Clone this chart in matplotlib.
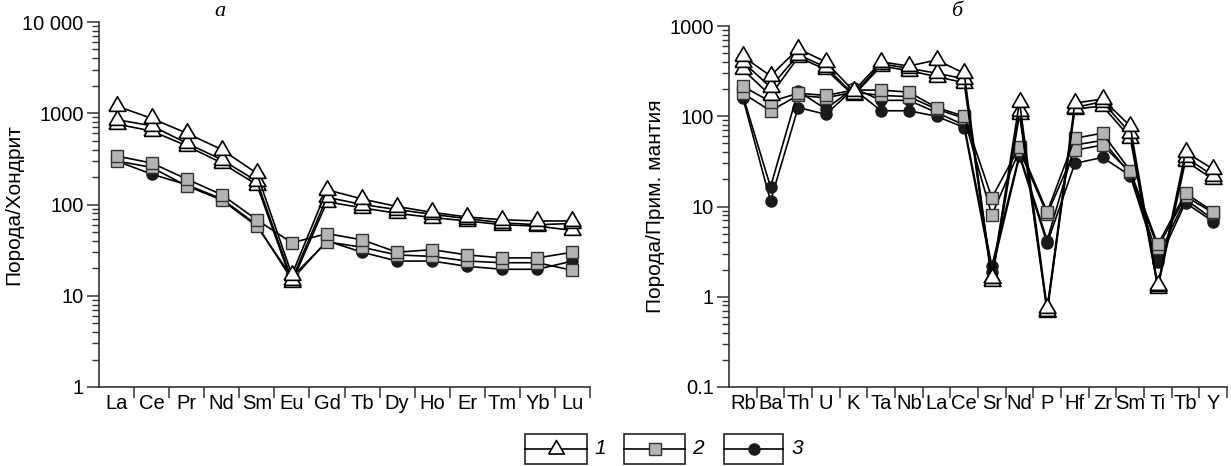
import numpy as np
import matplotlib
matplotlib.use("Agg")
import matplotlib.pyplot as plt
from matplotlib.patches import Rectangle
from matplotlib.lines import Line2D
from matplotlib.ticker import LogLocator, FixedLocator, NullFormatter

plt.rcParams['font.family'] = ['Liberation Sans', 'DejaVu Sans']

# --- panel a: REE, chondrite normalised ---
ree = ['La', 'Ce', 'Pr', 'Nd', 'Sm', 'Eu', 'Gd', 'Tb', 'Dy', 'Ho', 'Er', 'Tm', 'Yb', 'Lu']
tri_a1 = [1200, 880, 605, 400, 220, 17, 145, 115, 95, 82, 73, 68, 66, 66]
tri_a2 = [850, 730, 470, 310, 180, 15, 120, 100, 88, 78, 70, 63, 60, 62]
tri_a3 = [760, 640, 440, 285, 165, 14, 107, 92, 80, 72, 66, 60, 58, 52]
sq_a1 = [340, 285, 190, 128, 68, 38, 48, 41, 30, 32, 28, 26, 26, 30]
sq_a2 = [300, 255, 160, 112, 58, 16, 39, 34, 28, 27, 24, 23, 23, 19]
circ_a1 = [300, 215, 165, 115, 60, 15, 40, 30, 24, 24, 21, 19.5, 19.5, 24]

# --- panel b: primitive mantle normalised ---
elems = ['Rb', 'Ba', 'Th', 'U', 'K', 'Ta', 'Nb', 'La', 'Ce', 'Sr', 'Nd', 'P',
         'Hf', 'Zr', 'Sm', 'Ti', 'Tb', 'Y']
tri_b1 = [460, 280, 560, 400, 190, 400, 360, 420, 300, 1.6, 145, 0.75, 140, 155, 78, 1.35, 40, 26]
tri_b2 = [400, 210, 480, 350, 175, 380, 340, 300, 260, 1.6, 115, 0.7, 125, 145, 65, 1.3, 35, 22]
tri_b3 = [330, 170, 450, 330, 170, 360, 320, 275, 235, 1.5, 105, 0.68, 120, 130, 58, 1.25, 32, 20]
sq_b1 = [215, 145, 180, 170, 195, 195, 185, 125, 100, 12.5, 46, 8.7, 57, 65, 25, 3.8, 14, 8.8]
sq_b2 = [180, 115, 170, 160, 185, 170, 165, 120, 95, 8, 42, 8.2, 42, 48, 24, 3.5, 13, 8.5]
circ_b1 = [170, 16.5, 190, 120, 205, 150, 150, 110, 80, 2.2, 38, 4.2, 48, 54, 23, 2.8, 12, 7.2]
circ_b2 = [160, 11.5, 125, 105, 200, 115, 115, 100, 75, 1.9, 36, 3.9, 30, 35, 22, 2.4, 11, 6.8]

legend_labels = ['1', '2', '3']

# equilateral triangle marker
tri_marker = [(-1, -0.577), (1, -0.577), (0, 1.155), (-1, -0.577)]
tri_style = dict(color='black', lw=1.2, marker=tri_marker, ms=14, mfc='white', mec='black', mew=1.2)
sq_style = dict(color='black', lw=1.2, marker='s', ms=8, mfc='#b4b4b4', mec='#333333', mew=1.0)
circ_style = dict(color='black', lw=1.2, marker='o', ms=8, mfc='#1a1a1a', mec='#1a1a1a')

FS = 14.5

fig = plt.figure(figsize=(12.31, 4.66), dpi=100)
W, H = 1231, 466


def px_axes(x0, y0, x1, y1):
    return fig.add_axes([x0 / W, 1 - y1 / H, (x1 - x0) / W, (y1 - y0) / H])


def style_axis(ax, labels, ylim, yticklabels, ylabel):
    n = len(labels)
    ax.set_yscale('log')
    ax.set_ylim(*ylim)
    ax.set_xlim(-0.5, n - 0.5)
    for s in ['top', 'right']:
        ax.spines[s].set_visible(False)
    for s in ['left', 'bottom']:
        ax.spines[s].set_linewidth(1.2)
        ax.spines[s].set_color('#333333')
    ax.set_xticks(range(n))
    ax.set_xticklabels(labels, fontsize=FS)
    ax.xaxis.set_minor_locator(FixedLocator(np.arange(n) + 0.5))
    ax.tick_params(axis='x', which='major', length=0, pad=5)
    ax.tick_params(axis='x', which='minor', length=8, width=1.1, color='#333333')
    majors = [10.0 ** k for k in range(int(np.log10(ylim[0])), int(np.log10(ylim[1])) + 1)]
    ax.yaxis.set_major_locator(FixedLocator(majors))
    ax.set_yticklabels(yticklabels, fontsize=FS)
    ax.yaxis.set_minor_locator(LogLocator(base=10, subs=np.arange(2, 10)))
    ax.yaxis.set_minor_formatter(NullFormatter())
    ax.tick_params(axis='y', which='major', length=9, width=1.1, color='#333333', pad=2)
    ax.tick_params(axis='y', which='minor', length=5, width=1.0, color='#333333')
    ax.set_ylabel(ylabel, fontsize=15)


ax1 = px_axes(99, 22, 590, 387)
x1 = np.arange(len(ree))
for s in [circ_a1]:
    ax1.plot(x1, s, **circ_style)
for s in [sq_a2, sq_a1]:
    ax1.plot(x1, s, **sq_style)
for s in [tri_a3, tri_a2, tri_a1]:
    ax1.plot(x1, s, **tri_style)
style_axis(ax1, ree, (1, 10000), ['1', '10', '100', '1000', '10 000'], 'Порода/Хондрит')
ax1.yaxis.set_label_coords(-0.155, 0.5)

ax2 = px_axes(729, 26, 1227, 387)
x2 = np.arange(len(elems))
for s in [circ_b2, circ_b1]:
    ax2.plot(x2, s, **circ_style)
for s in [sq_b2, sq_b1]:
    ax2.plot(x2, s, **sq_style)
for s in [tri_b3, tri_b2, tri_b1]:
    ax2.plot(x2, s, **tri_style)
style_axis(ax2, elems, (0.1, 1000), ['0.1', '1', '10', '100', '1000'], 'Порода/Прим. мантия')
ax2.yaxis.set_label_coords(-0.128, 0.5)

fig.text(220 / W, 1 - 12 / H, 'а', family='Liberation Serif', style='italic', fontsize=16,
         ha='center', va='center')
fig.text(957 / W, 1 - 12 / H, 'б', family='Liberation Serif', style='italic', fontsize=16,
         ha='center', va='center')

# legend boxes
boxes = [(525, 587, 600), (624, 685, 698), (724, 783, 797)]
styles = [tri_style, sq_style, circ_style]
for (bx0, bx1, lx), st, lab in zip(boxes, styles, legend_labels):
    fig.add_artist(Rectangle((bx0 / W, 1 - 464 / H), (bx1 - bx0) / W, 30 / H,
                             transform=fig.transFigure, fill=False, lw=1.2, ec='#222222'))
    yc = 1 - 449 / H
    fig.add_artist(Line2D([bx0 / W, bx1 / W], [yc, yc], transform=fig.transFigure,
                          color='black', lw=1.2))
    mst = dict(st)
    mst.pop('lw', None)
    mst.pop('color', None)
    if mst['mfc'] == 'white':
        mst['ms'] = 13
    fig.add_artist(Line2D([(bx0 + bx1) / 2 / W], [yc], transform=fig.transFigure,
                          lw=0, **mst))
    fig.text(lx / W, yc, lab, style='italic', fontsize=15, ha='center', va='center')

fig.savefig('out.png', dpi=100)
